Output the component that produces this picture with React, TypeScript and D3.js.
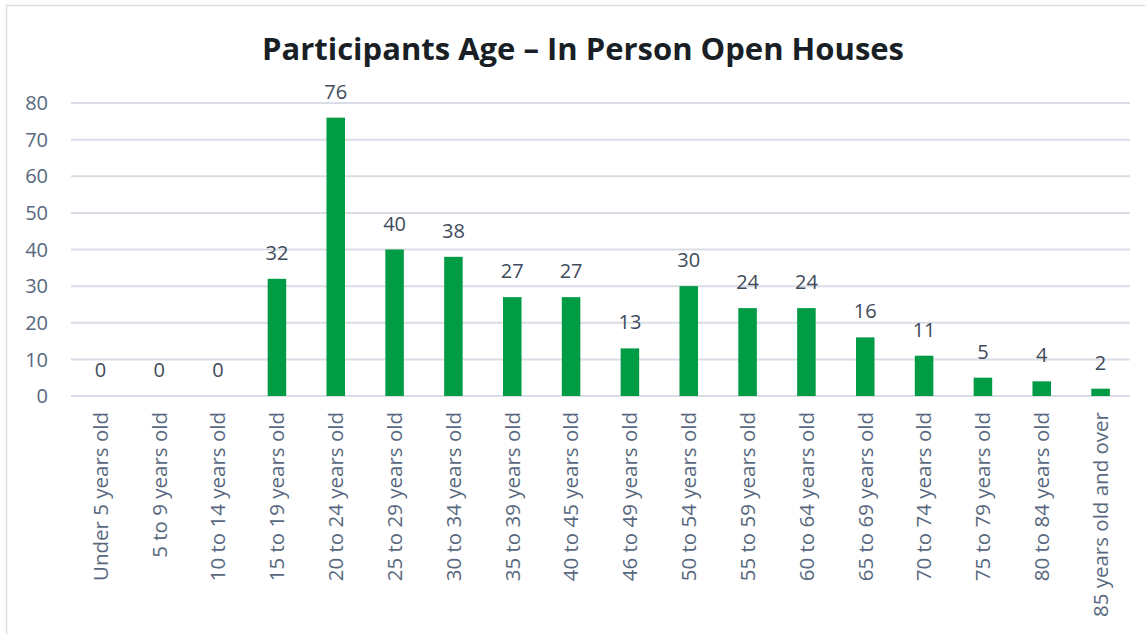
import React, { useEffect, useRef } from 'react';
import * as d3 from 'd3';

const categories = [
  'Under 5 years old', '5 to 9 years old', '10 to 14 years old', '15 to 19 years old',
  '20 to 24 years old', '25 to 29 years old', '30 to 34 years old', '35 to 39 years old',
  '40 to 45 years old', '46 to 49 years old', '50 to 54 years old', '55 to 59 years old',
  '60 to 64 years old', '65 to 69 years old', '70 to 74 years old', '75 to 79 years old',
  '80 to 84 years old', '85 years old and over'
];
const participants = [0, 0, 0, 32, 76, 40, 38, 27, 27, 13, 30, 24, 24, 16, 11, 5, 4, 2];
const yTicks = [0, 10, 20, 30, 40, 50, 60, 70, 80];
const title = 'Participants Age \u2013 In Person Open Houses';

const width = 1145;
const height = 634;
const font = '"Open Sans", "Liberation Sans", sans-serif';

export default function App() {
  const ref = useRef<SVGSVGElement>(null);

  useEffect(() => {
    const svg = d3.select(ref.current);
    svg.selectAll('*').remove();

    // chart frame
    svg.append('path')
      .attr('d', 'M6.5,' + height + ' L6.5,5.5 L' + width + ',5.5')
      .attr('fill', 'none')
      .attr('stroke', '#d9dde5')
      .attr('stroke-width', 1.5);

    svg.append('text')
      .attr('x', 583)
      .attr('y', 60)
      .attr('text-anchor', 'middle')
      .attr('font-family', font)
      .attr('font-weight', 700)
      .attr('font-size', 31)
      .attr('fill', '#1a1f26')
      .text(title);

    const x = d3.scaleBand<string>()
      .domain(categories)
      .range([71, 1130])
      .paddingInner(0.685)
      .paddingOuter(0.3425);

    const y = d3.scaleLinear()
      .domain([0, 80])
      .range([396, 103]);

    // grid
    svg.append('g')
      .selectAll('line')
      .data(yTicks)
      .enter()
      .append('line')
      .attr('x1', 71)
      .attr('x2', 1130)
      .attr('y1', d => y(d))
      .attr('y2', d => y(d))
      .attr('stroke', '#d9dde5')
      .attr('stroke-width', 2);

    svg.append('g')
      .selectAll('text')
      .data(yTicks)
      .enter()
      .append('text')
      .attr('x', 48)
      .attr('y', d => y(d))
      .attr('dy', '0.36em')
      .attr('text-anchor', 'end')
      .attr('font-family', font)
      .attr('font-size', 20)
      .attr('fill', '#58687e')
      .text(d => d);

    // bars
    svg.append('g')
      .selectAll('rect')
      .data(participants)
      .enter()
      .append('rect')
      .attr('x', (d, i) => x(categories[i]) as number)
      .attr('width', x.bandwidth())
      .attr('y', d => y(d))
      .attr('height', d => y(0) - y(d))
      .attr('fill', '#009b45');

    // value labels
    svg.append('g')
      .selectAll('text')
      .data(participants)
      .enter()
      .append('text')
      .attr('x', (d, i) => (x(categories[i]) as number) + x.bandwidth() / 2)
      .attr('y', d => y(d) - 19)
      .attr('text-anchor', 'middle')
      .attr('font-family', font)
      .attr('font-size', 20)
      .attr('fill', '#404a5a')
      .text(d => d);

    // category labels, rotated
    svg.append('g')
      .selectAll('text')
      .data(categories)
      .enter()
      .append('text')
      .attr('transform', d => 'translate(' + ((x(d) as number) + x.bandwidth() / 2) + ',412) rotate(-90)')
      .attr('dy', '0.36em')
      .attr('text-anchor', 'end')
      .attr('font-family', font)
      .attr('font-size', 20.5)
      .attr('fill', '#58687e')
      .text(d => d);
  }, []);

  return (
    <svg
      ref={ref}
      width={width}
      height={height}
      style={{ position: 'absolute', left: 0, top: 0, background: '#fff' }}
    />
  );
}
